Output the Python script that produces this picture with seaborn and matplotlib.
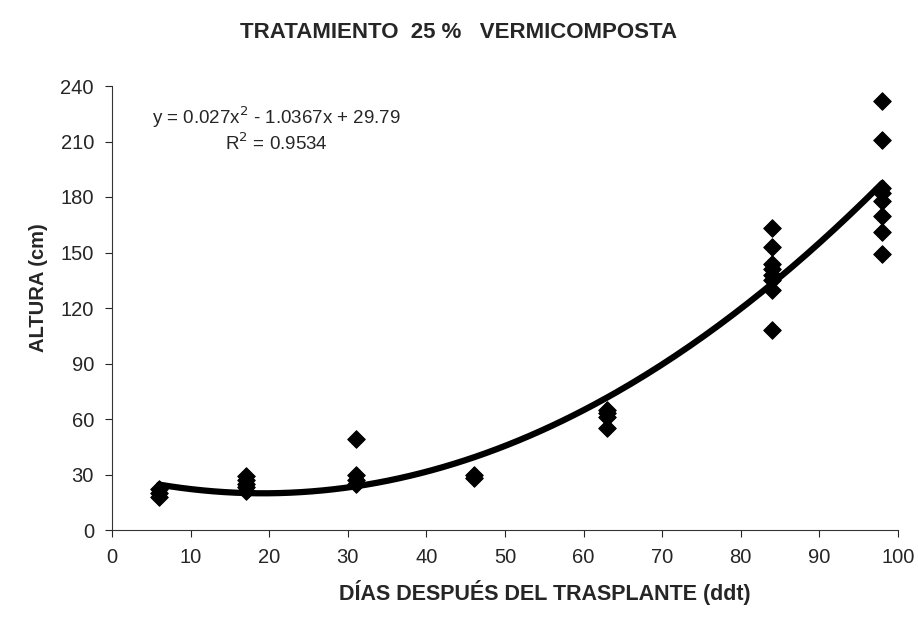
import numpy as np
import pandas as pd
import seaborn as sns
import matplotlib.pyplot as plt

# days after transplant and plant height (cm)
dias = [6, 6, 6,
        17, 17, 17, 17, 17,
        31, 31, 31, 31,
        46, 46,
        63, 63, 63, 63,
        84, 84, 84, 84, 84, 84, 84, 84,
        98, 98, 98, 98, 98, 98, 98, 98]
altura = [18, 20, 22,
          21, 23, 25, 27, 29,
          49, 30, 27, 25,
          28, 30,
          55, 61, 63, 65,
          163, 153, 144, 141, 138, 135, 130, 108,
          232, 211, 185, 182, 178, 170, 161, 149]

# trendline coefficients as printed on the chart
coef = [0.027, -1.0367, 29.79]
r2 = 0.9534

df = pd.DataFrame({'dias': dias, 'altura': altura})
xs = np.linspace(6, 98, 200)
fit = pd.DataFrame({'dias': xs, 'altura': np.polyval(coef, xs)})

sns.set_style('ticks')
plt.rcParams['font.family'] = ['Liberation Sans', 'DejaVu Sans']

fig = plt.figure(figsize=(9.18, 6.28), dpi=100)
ax = fig.add_axes([112 / 918, 1 - 530 / 628, 786 / 918, 444 / 628])

sns.scatterplot(data=df, x='dias', y='altura', marker='D', s=80,
                color='black', edgecolor='black', ax=ax, zorder=3)
sns.lineplot(data=fit, x='dias', y='altura', color='black', lw=4.5, ax=ax)

ax.set_xlim(0, 100)
ax.set_ylim(0, 240)
ax.set_xticks(range(0, 101, 10))
ax.set_yticks(range(0, 241, 30))
ax.tick_params(labelsize=14.5, length=5, direction='out')
ax.tick_params(axis='x', pad=8)
ax.tick_params(axis='y', pad=8)
sns.despine(ax=ax)
ax.spines['left'].set_color('#333333')
ax.spines['bottom'].set_color('#333333')

ax.set_xlabel('DÍAS DESPUÉS DEL TRASPLANTE (ddt)', fontsize=15.5,
              fontweight='bold')
ax.xaxis.set_label_coords(0.551, -0.113)
ax.set_ylabel('ALTURA (cm)', fontsize=14.5, fontweight='bold')
ax.yaxis.set_label_coords(-0.081, 0.545)
fig.text(0.5, 1 - 32 / 628, 'TRATAMIENTO  25 %   VERMICOMPOSTA',
         ha='center', va='center', fontsize=16, fontweight='bold')

ax.text(0.209, 0.930, r'y = 0.027x$^2$ - 1.0367x + 29.79',
        transform=ax.transAxes, ha='center', va='center', fontsize=13.5)
ax.text(0.209, 0.872, r'R$^2$ = %.4f' % r2,
        transform=ax.transAxes, ha='center', va='center', fontsize=13.5)

plt.savefig('out.png', dpi=100)
plt.close()
